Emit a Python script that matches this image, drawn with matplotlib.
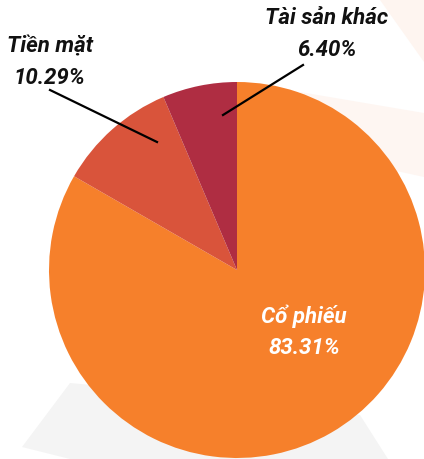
import matplotlib.pyplot as plt
from matplotlib.patches import Polygon

# data
labels = ['Cổ phiếu', 'Tiền mặt', 'Tài sản khác']
values = [83.31, 10.29, 6.40]
colors = ['#F6802B', '#D9543B', '#AF2D42']

W, H = 424, 459
fig = plt.figure(figsize=(W / 100, H / 100), dpi=100)
ax = fig.add_axes([0, 0, 1, 1])

def py(y):
    # pixel row (top-down) -> data y (bottom-up)
    return H - y

# faint background shapes
ax.add_patch(Polygon([(70, py(383)), (22, py(447)), (70, py(459)), (388, py(459)),
                      (360, py(415)), (200, py(395))], closed=True,
                     facecolor='#F4F4F4', edgecolor='none', zorder=0))
ax.add_patch(Polygon([(380, py(0)), (424, py(0)), (424, py(62))], closed=True,
                     facecolor='#FEF5F0', edgecolor='none', zorder=0))
ax.add_patch(Polygon([(300, py(92)), (424, py(113)), (424, py(177)), (300, py(150))],
                     closed=True, facecolor='#FEF6F2', edgecolor='none', zorder=0))

ax.pie(values, colors=colors, startangle=90, counterclock=False,
       center=(237, py(270)), radius=188,
       wedgeprops=dict(linewidth=0))

font = dict(family=['Roboto', 'DejaVu Sans'], fontsize=16, fontweight='bold',
            fontstyle='italic', ha='center', va='center')

ax.text(327, py(18), 'Tài sản khác', color='#111111', **font)
ax.text(327, py(50), '6.40%', color='#111111', **font)
ax.plot([303, 223], [py(65), py(115)], color='black', lw=1.6, zorder=5)

ax.text(50, py(46), 'Tiền mặt', color='#111111', **font)
ax.text(49, py(78), '10.29%', color='#111111', **font)
ax.plot([50, 157], [py(90), py(142)], color='black', lw=1.6, zorder=5)

ax.text(304, py(316), 'Cổ phiếu', color='white', **font)
ax.text(304, py(348), '83.31%', color='white', **font)

ax.set_xlim(0, W)
ax.set_ylim(0, H)
ax.set_aspect('equal')
ax.axis('off')

fig.savefig('out.png', dpi=100)
